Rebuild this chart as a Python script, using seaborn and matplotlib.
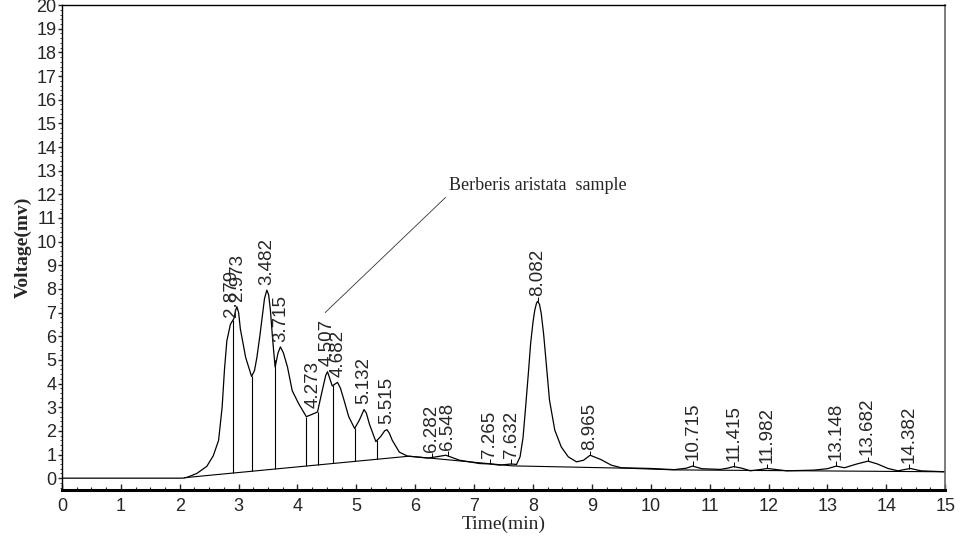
import numpy as np
import pandas as pd
import matplotlib
matplotlib.use("Agg")
import matplotlib.pyplot as plt
from matplotlib.ticker import MultipleLocator
import seaborn as sns

# Chromatogram trace (time in min, voltage in mv)
trace_t = [0.0, 2.05, 2.12, 2.29, 2.46, 2.57, 2.66, 2.72, 2.76, 2.80, 2.86, 2.92, 2.95, 2.97,
           3.00, 3.03, 3.12, 3.22, 3.27, 3.31, 3.36, 3.40, 3.44, 3.48, 3.51, 3.54, 3.58,
           3.62, 3.67, 3.71, 3.76, 3.83, 3.91, 4.02, 4.15, 4.25, 4.34, 4.42, 4.48, 4.51,
           4.55, 4.59, 4.68, 4.73, 4.79, 4.87, 4.97, 5.05, 5.13, 5.17, 5.22, 5.33, 5.41,
           5.48, 5.52, 5.56, 5.61, 5.73, 5.87, 6.0, 6.21, 6.35, 6.52, 6.75, 7.09, 7.27,
           7.43, 7.63, 7.72, 7.78, 7.83, 7.87, 7.92, 7.96, 8.00, 8.03, 8.06, 8.08, 8.11,
           8.14, 8.18, 8.21, 8.28, 8.37, 8.48, 8.6, 8.74, 8.86, 8.97, 9.15, 9.33, 9.5,
           10.0, 10.4, 10.6, 10.71, 10.87, 11.18, 11.3, 11.41, 11.55, 11.69, 11.85, 11.98,
           12.15, 12.31, 12.77, 13.0, 13.15, 13.29, 13.5, 13.69, 13.85, 14.03, 14.2, 14.3,
           14.41, 14.59, 15.0]
trace_v = [0.0, 0.0, 0.03, 0.2, 0.5, 0.95, 1.6, 3.0, 4.6, 5.8, 6.5, 6.75, 7.1, 7.25,
           7.0, 6.3, 5.1, 4.3, 4.55, 5.1, 6.0, 6.8, 7.6, 7.95, 7.75, 7.1, 5.8,
           4.7, 5.3, 5.55, 5.3, 4.7, 3.7, 3.15, 2.6, 2.7, 2.8, 3.7, 4.35, 4.5,
           4.2, 3.9, 4.05, 3.8, 3.3, 2.6, 2.1, 2.45, 2.9, 2.75, 2.3, 1.55, 1.75,
           2.0, 2.05, 1.9, 1.6, 1.1, 0.93, 0.9, 0.85, 0.9, 0.97, 0.76, 0.62, 0.6,
           0.55, 0.6, 0.58, 0.9, 1.7, 2.87, 4.4, 5.7, 6.6, 7.1, 7.4, 7.48, 7.35,
           6.96, 6.1, 5.27, 3.3, 2.03, 1.32, 0.9, 0.69, 0.76, 0.97, 0.79, 0.55, 0.44,
           0.41, 0.36, 0.42, 0.51, 0.4, 0.37, 0.42, 0.49, 0.42, 0.31, 0.36, 0.41,
           0.36, 0.31, 0.34, 0.4, 0.51, 0.44, 0.6, 0.72, 0.6, 0.41, 0.31, 0.36,
           0.41, 0.31, 0.27]

# integration baseline
base_t = [2.08, 5.9, 7.65, 9.6, 10.4, 15.0]
base_v = [0.02, 0.93, 0.52, 0.42, 0.35, 0.27]

# drop lines between unresolved peaks
drop_t = [2.90, 3.22, 3.61, 4.15, 4.34, 4.61, 4.97, 5.35]

peak_labels = ['2.879', '2.973', '3.482', '3.715', '4.273', '4.507', '4.682', '5.132',
               '5.515', '6.282', '6.548', '7.265', '7.632', '8.082', '8.965', '10.715',
               '11.415', '11.982', '13.148', '13.682', '14.382']
peak_t = [float(p) for p in peak_labels]

df = pd.DataFrame({'time': trace_t, 'volt': trace_v})
bl = pd.DataFrame({'time': base_t, 'volt': base_v})

sns.set_style("white")
plt.rcParams['font.family'] = ['Liberation Sans', 'DejaVu Sans']

fig = plt.figure(figsize=(9.61, 5.4), dpi=100)
ax = fig.add_axes([0.0645, 0.0926, 0.919, 0.898])

sns.lineplot(data=df, x='time', y='volt', color='black', lw=0.9, ax=ax)
sns.lineplot(data=bl, x='time', y='volt', color='black', lw=0.8, ax=ax)

# vertical drop lines from baseline up to trace
top = np.interp(drop_t, trace_t, trace_v)
bot = np.interp(drop_t, base_t, base_v)
ax.vlines(drop_t, bot, top, color='black', lw=0.8)

# small apex ticks and rotated retention time labels
pk_v = np.interp(peak_t, trace_t, trace_v)
for t, v, lab in zip(peak_t, pk_v, peak_labels):
    if t > 5.6:
        ax.vlines(t, v, v + 0.2, color='black', lw=0.7)
    ax.text(t, v + 0.25, lab, rotation=90, ha='center', va='bottom', fontsize=13.5)

ax.annotate('Berberis aristata  sample', xy=(4.47, 7.0), xytext=(6.57, 12.0),
            textcoords='data', ha='left', va='bottom', fontsize=13,
            family=['Liberation Serif', 'DejaVu Serif'],
            arrowprops=dict(arrowstyle='-', lw=0.6, color='#333333',
                            shrinkA=0, shrinkB=0, relpos=(0, 0)))

ax.set_xlim(0, 15)
ax.set_ylim(-0.5, 20)
ax.xaxis.set_major_locator(MultipleLocator(1))
ax.xaxis.set_minor_locator(MultipleLocator(0.25))
ax.yaxis.set_major_locator(MultipleLocator(1))
ax.yaxis.set_minor_locator(MultipleLocator(0.2))
ax.tick_params(axis='x', which='major', direction='in', length=4, width=1,
               labelsize=13, pad=6)
ax.tick_params(axis='x', which='minor', direction='in', length=2, width=0.8)
ax.tick_params(axis='y', which='major', direction='out', length=3, width=1,
               labelsize=13, pad=1)
ax.tick_params(axis='y', which='minor', direction='out', length=1.5, width=0.6)
ax.xaxis.set_ticks_position('bottom')
ax.yaxis.set_ticks_position('left')

for s in ['left', 'top']:
    ax.spines[s].set_linewidth(1.0)
    ax.spines[s].set_color('black')
ax.spines['bottom'].set_linewidth(2.2)
ax.spines['bottom'].set_color('black')
ax.spines['right'].set_linewidth(1.2)
ax.spines['right'].set_color('#666666')

ax.set_xlabel('Time(min)', fontsize=14, family=['Liberation Serif', 'DejaVu Serif'],
              labelpad=0)
ax.set_ylabel('Voltage(mv)', fontsize=14, fontweight='bold',
              family=['Liberation Serif', 'DejaVu Serif'], labelpad=3)

plt.savefig('out.png', dpi=100)
